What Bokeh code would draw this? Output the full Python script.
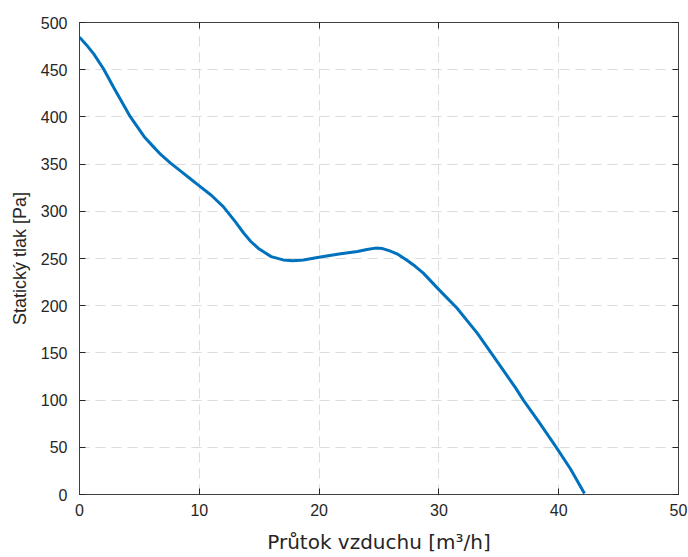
from bokeh.plotting import figure
from bokeh.models import (Range1d, LinearAxis, FixedTicker, CustomLabelingPolicy,
                          CustomJSTickFormatter)
from bokeh.embed import file_html
from bokeh.resources import INLINE

# Data
flow = [0, 0.6, 1.2, 2.0, 2.9, 4.25, 5.4, 6.2, 6.8, 7.6, 8.5, 9.3, 10.0, 11.0, 12.0,
        13.0, 13.7, 14.3, 15.0, 16.0, 17.0, 17.8, 18.7, 20.1, 21.8, 23.2, 24.0,
        24.7, 25.3, 25.9, 26.5, 27.3, 28.0, 28.7, 30.0, 31.5, 33.2, 34.55, 36.4,
        37.05, 38.4, 39.8, 41.0, 42.15]
pressure = [484.5, 476, 466.5, 451, 430, 400, 379, 368, 360, 351, 342, 334, 327, 317,
            305, 289, 277, 268, 260, 252, 248.5, 247.5, 248.5, 251.5, 255, 257.5,
            259.5, 261, 260.5, 258, 255, 248.5, 242, 234.5, 217, 197.5, 171, 146.5,
            113, 100, 76, 50, 26.7, 1]
x_ticks = [0, 10, 20, 30, 40, 50]
y_ticks = [0, 50, 100, 150, 200, 250, 300, 350, 400, 450, 500]

AX = "#262626"
TICK_FONT = "Liberation Sans"

p = figure(width=688, height=557, output_backend="svg", toolbar_location=None,
           x_range=Range1d(0, 50), y_range=Range1d(0, 500),
           min_border_left=79, min_border_right=10, min_border_top=22,
           min_border_bottom=63, x_axis_label="Průtok vzduchu [m³/h]",
           y_axis_label="Statický tlak [Pa]")

p.outline_line_color = "#404040"
p.outline_line_width = 1

for ax, ticks in ((p.xaxis[0], x_ticks), (p.yaxis[0], y_ticks)):
    ax.ticker = FixedTicker(ticks=ticks)
    ax.major_tick_in = 6
    ax.major_tick_out = 0
    ax.minor_tick_in = 0
    ax.minor_tick_out = 0
    ax.axis_line_color = "#404040"
    ax.major_tick_line_color = AX
    ax.major_label_text_font = TICK_FONT
    ax.major_label_text_font_size = "16px"
    ax.major_label_text_color = AX
    ax.axis_label_text_font_style = "normal"
    ax.axis_label_text_color = AX

p.xaxis[0].major_label_standoff = 9
p.yaxis[0].major_label_standoff = 12
p.xaxis[0].axis_label_text_font = "DejaVu Sans"
p.xaxis[0].axis_label_text_font_size = "20px"
p.xaxis[0].axis_label_standoff = 11
p.yaxis[0].axis_label_text_font = "Liberation Sans"
p.yaxis[0].axis_label_text_font_size = "18px"
p.yaxis[0].axis_label_standoff = 8

no_labels = CustomLabelingPolicy(code="""
    const n = indices.size
    for (let i = 0; i < n; i++) { indices.unset(i) }
    return indices
""")
empty_fmt = CustomJSTickFormatter(code="return ''")

# mirrored ticks on top and right (box)
for loc, ticks in (("above", x_ticks), ("right", y_ticks)):
    a = LinearAxis(ticker=FixedTicker(ticks=ticks), formatter=empty_fmt)
    a.major_tick_in = 6
    a.major_tick_out = 0
    a.minor_tick_in = 0
    a.minor_tick_out = 0
    a.major_label_policy = no_labels
    a.major_label_standoff = 0
    a.axis_line_color = "#404040"
    a.major_tick_line_color = AX
    p.add_layout(a, loc)

for g, ticks in ((p.xgrid[0], x_ticks), (p.ygrid[0], y_ticks)):
    g.ticker = FixedTicker(ticks=ticks)
    g.grid_line_color = "#dcdcdc"
    g.grid_line_dash = "10 6"
    g.grid_line_width = 1

p.line(flow, pressure, line_color="#0072BD", line_width=3, line_join="round")

open("out.html", "w").write(file_html(p, INLINE))
